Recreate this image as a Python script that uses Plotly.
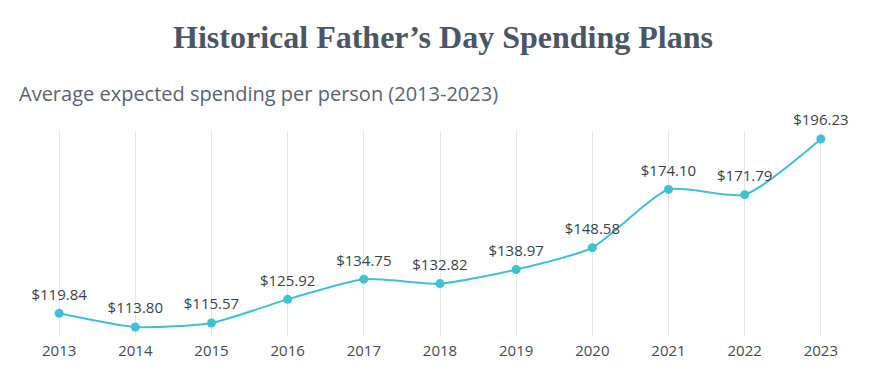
import plotly.graph_objects as go

years = [2013, 2014, 2015, 2016, 2017, 2018, 2019, 2020, 2021, 2022, 2023]
spending = [119.84, 113.80, 115.57, 125.92, 134.75, 132.82, 138.97, 148.58, 174.10, 171.79, 196.23]
labels = ["$%.2f" % v for v in spending]

line_color = "#3ec1d3"

fig = go.Figure()
fig.add_trace(go.Scatter(
    x=years, y=spending,
    mode="lines+markers",
    line=dict(color=line_color, width=2, shape="spline", smoothing=0.6),
    marker=dict(color=line_color, size=9),
    cliponaxis=False,
    hoverinfo="skip",
))
# invisible larger markers to carry the value labels a little above the points
fig.add_trace(go.Scatter(
    x=years, y=spending,
    mode="markers+text",
    marker=dict(color="rgba(0,0,0,0)", size=14),
    text=labels, textposition="top center",
    textfont=dict(family="Open Sans", size=15, color="#3a3f47"),
    cliponaxis=False,
    hoverinfo="skip",
))

fig.update_layout(
    width=870, height=382,
    paper_bgcolor="white", plot_bgcolor="white",
    margin=dict(l=50, r=56, t=123, b=54),
    showlegend=False,
    title=dict(
        text="Historical Father\u2019s Day Spending Plans",
        font=dict(family="Liberation Serif", size=32, color="#4a5565", weight="bold"),
        x=0.5, xanchor="center", y=1 - 29 / 382, yanchor="middle",
    ),
    annotations=[dict(
        text="Average expected spending per person (2013-2023)",
        xref="paper", yref="paper", x=0, y=1 + 38 / 205,
        xanchor="left", yanchor="middle", showarrow=False,
        xshift=-41,
        font=dict(family="Open Sans", size=20, color="#5a6370"),
    )],
    xaxis=dict(
        range=[2012.985, 2023.015], tickmode="array", tickvals=years,
        ticktext=[str(y) for y in years],
        showgrid=True, gridcolor="#e6e6e6", gridwidth=1,
        zeroline=False, showline=False, ticks="",
        ticklabelstandoff=4,
        tickfont=dict(family="Open Sans", size=15, color="#444a52"),
    ),
    yaxis=dict(
        range=[109.85, 199.7], showgrid=False, zeroline=False,
        showticklabels=False, showline=False,
    ),
)

fig.write_html("out.html")
